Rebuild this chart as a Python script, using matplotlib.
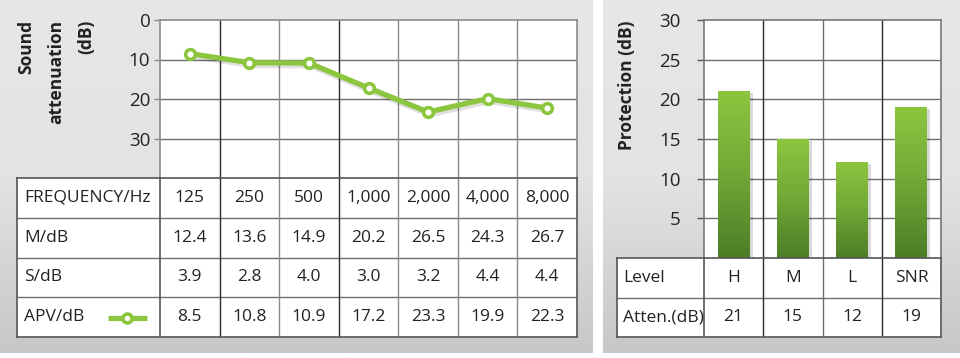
import matplotlib
matplotlib.use("Agg")
import matplotlib.pyplot as plt
import numpy as np
from matplotlib.colors import LinearSegmentedColormap

plt.rcParams['font.family'] = ['Open Sans', 'DejaVu Sans']

# data
freq_labels = ['125', '250', '500', '1,000', '2,000', '4,000', '8,000']
m_db = ['12.4', '13.6', '14.9', '20.2', '26.5', '24.3', '26.7']
s_db = ['3.9', '2.8', '4.0', '3.0', '3.2', '4.4', '4.4']
apv_db = [8.5, 10.8, 10.9, 17.2, 23.3, 19.9, 22.3]

levels = ['H', 'M', 'L', 'SNR']
atten = [21, 15, 12, 19]

W, H = 960, 358
GREEN = '#8cc63f'
TXT = '#222222'
DARK = '#2b2b2b'
GRAY = '#8a8a8a'
FS = 12.5

fig = plt.figure(figsize=(W / 100, H / 100), dpi=100)


def px_axes(x0, y0, x1, y1, **kw):
    # axes placed with pixel box (top-left origin)
    return fig.add_axes([x0 / W, 1 - y1 / H, (x1 - x0) / W, (y1 - y0) / H], **kw)


# background panels
bg = px_axes(0, 0, W, H)
bg.set_xlim(0, W)
bg.set_ylim(H, 0)
bg.axis('off')
grad = np.linspace(0, 1, 256).reshape(-1, 1)
bgcmap = LinearSegmentedColormap.from_list('bg', ['#e6e7e9', '#e2e3e5', '#c6c7c9'])
for (x0, x1) in [(0, 593), (603, W)]:
    bg.imshow(grad, cmap=bgcmap, aspect='auto', extent=[x0, x1, 353, 0], zorder=0)

# ---------------- left chart ----------------
ax1 = px_axes(160, 20, 577, 178)
ax1.set_facecolor('white')
ax1.set_xlim(-0.5, len(freq_labels) - 0.5)
ax1.set_ylim(40, 0)
ax1.set_yticks([0, 10, 20, 30])
ax1.set_xticks([])
ax1.tick_params(axis='y', length=4, width=1, color=GRAY, labelsize=FS + 1,
                labelcolor=TXT, pad=3)
for v in [10, 20, 30]:
    ax1.axhline(v, color='#6f6f6f', lw=1, zorder=1)
for i in range(1, len(freq_labels)):
    ax1.axvline(i - 0.5, color=DARK if i in (1, 3) else GRAY, lw=1, zorder=1)
for s in ax1.spines.values():
    s.set_color(GRAY)
    s.set_linewidth(1.2)
ax1.spines['bottom'].set_visible(False)

x = np.arange(len(freq_labels))
ax1.plot(x + 0.03, np.array(apv_db) + 0.5, color='#000000', alpha=0.12, lw=5,
         solid_capstyle='round', zorder=2)
ax1.plot(x, apv_db, color=GREEN, lw=3.8, marker='o', ms=7, mfc='white',
         mec=GREEN, mew=2.6, zorder=3, clip_on=False)

ax1.text((56 - 160) / 417, 1.0, 'Sound\nattenuation\n(dB)', transform=ax1.transAxes,
         rotation=90, ha='center', va='top', multialignment='right',
         fontsize=FS, fontweight='bold', color=TXT, linespacing=1.85)

# left table
col_w = (577 - 160) / len(freq_labels)
lab_w = (160 - 17) / col_w
t1 = px_axes(17, 178, 577, 337)
t1.set_xlim(-0.5 - lab_w, len(freq_labels) - 0.5)
t1.set_ylim(4, 0)
t1.set_facecolor('white')
t1.set_xticks([])
t1.set_yticks([])
for s in t1.spines.values():
    s.set_color('#555555')
    s.set_linewidth(1.2)
for r in range(1, 4):
    t1.axhline(r, color='#6f6f6f', lw=1)
t1.axvline(-0.5, color='#555555', lw=1.2)
for i in range(1, len(freq_labels)):
    t1.axvline(i - 0.5, color=DARK if i in (1, 3) else GRAY, lw=1)

rows1 = [('FREQUENCY/Hz', freq_labels), ('M/dB', m_db), ('S/dB', s_db),
         ('APV/dB', ['%.1f' % v for v in apv_db])]
for r, (lab, vals) in enumerate(rows1):
    t1.text(-0.5 - lab_w + 0.12, r + 0.5, lab, ha='left', va='center',
            fontsize=FS, color=TXT)
    for i, v in enumerate(vals):
        t1.text(i, r + 0.5, v, ha='center', va='center', fontsize=FS, color=TXT)
# legend marker in APV row
lx = np.array([-0.5 - lab_w + 1.52, -0.5 - lab_w + 2.18])
t1.plot(lx, [3.52, 3.52], color=GREEN, lw=3.8, solid_capstyle='butt')
t1.plot([lx.mean()], [3.52], marker='o', ms=6.5, mfc='white', mec=GREEN, mew=2.6)

# ---------------- right chart ----------------
ax2 = px_axes(704, 20, 941, 258)
ax2.set_facecolor('white')
ax2.set_xlim(-0.5, len(levels) - 0.5)
ax2.set_ylim(0, 30)
ax2.set_yticks([5, 10, 15, 20, 25, 30])
ax2.set_xticks([])
ax2.tick_params(axis='y', length=5, width=1, color='#555555', labelsize=FS + 1,
                labelcolor=TXT, pad=12)
for v in [5, 10, 15, 20, 25]:
    ax2.axhline(v, color='#6f6f6f', lw=1, zorder=1)
for i in range(1, len(levels)):
    ax2.axvline(i - 0.5, color=DARK if i in (1, 3) else '#6f6f6f', lw=1, zorder=1)
for s in ax2.spines.values():
    s.set_color('#777777')
    s.set_linewidth(1.2)
ax2.spines['bottom'].set_visible(False)

xb = np.arange(len(levels))
bw = 0.54
ax2.bar(xb + 0.05, np.array(atten) - 0.2, width=bw, color='#000000', alpha=0.15,
        zorder=2, linewidth=0)
bars = ax2.bar(xb, atten, width=bw, color='none', zorder=3, linewidth=0)
barcmap = LinearSegmentedColormap.from_list('bar', ['#4c7d27', '#70a836', '#8cc63f'])
for b in bars:
    bx0, by0 = b.get_x(), b.get_y()
    ax2.imshow(grad, cmap=barcmap, aspect='auto', origin='lower', zorder=4,
               extent=[bx0, bx0 + b.get_width(), by0, by0 + b.get_height()])
ax2.set_xlim(-0.5, len(levels) - 0.5)
ax2.set_ylim(0, 30)

ax2.text(-0.325, 1.0, 'Protection (dB)', transform=ax2.transAxes,
         rotation=90, ha='center', va='top', fontsize=FS, fontweight='bold',
         color=TXT)

# right table
col_w2 = (941 - 704) / len(levels)
lab_w2 = (704 - 617) / col_w2
t2 = px_axes(617, 258, 941, 337)
t2.set_xlim(-0.5 - lab_w2, len(levels) - 0.5)
t2.set_ylim(2, 0)
t2.set_facecolor('white')
t2.set_xticks([])
t2.set_yticks([])
for s in t2.spines.values():
    s.set_color('#555555')
    s.set_linewidth(1.2)
t2.axhline(1, color='#6f6f6f', lw=1)
t2.axvline(-0.5, color='#555555', lw=1.2)
for i in range(1, len(levels)):
    t2.axvline(i - 0.5, color=DARK if i in (1, 3) else '#6f6f6f', lw=1)

rows2 = [('Level', levels), ('Atten.(dB)', [str(v) for v in atten])]
for r, (lab, vals) in enumerate(rows2):
    t2.text(-0.5 - lab_w2 + 0.1, r + 0.5, lab, ha='left', va='center',
            fontsize=FS, color=TXT)
    for i, v in enumerate(vals):
        t2.text(i, r + 0.5, v, ha='center', va='center', fontsize=FS, color=TXT)

fig.savefig('out.png', dpi=100)
